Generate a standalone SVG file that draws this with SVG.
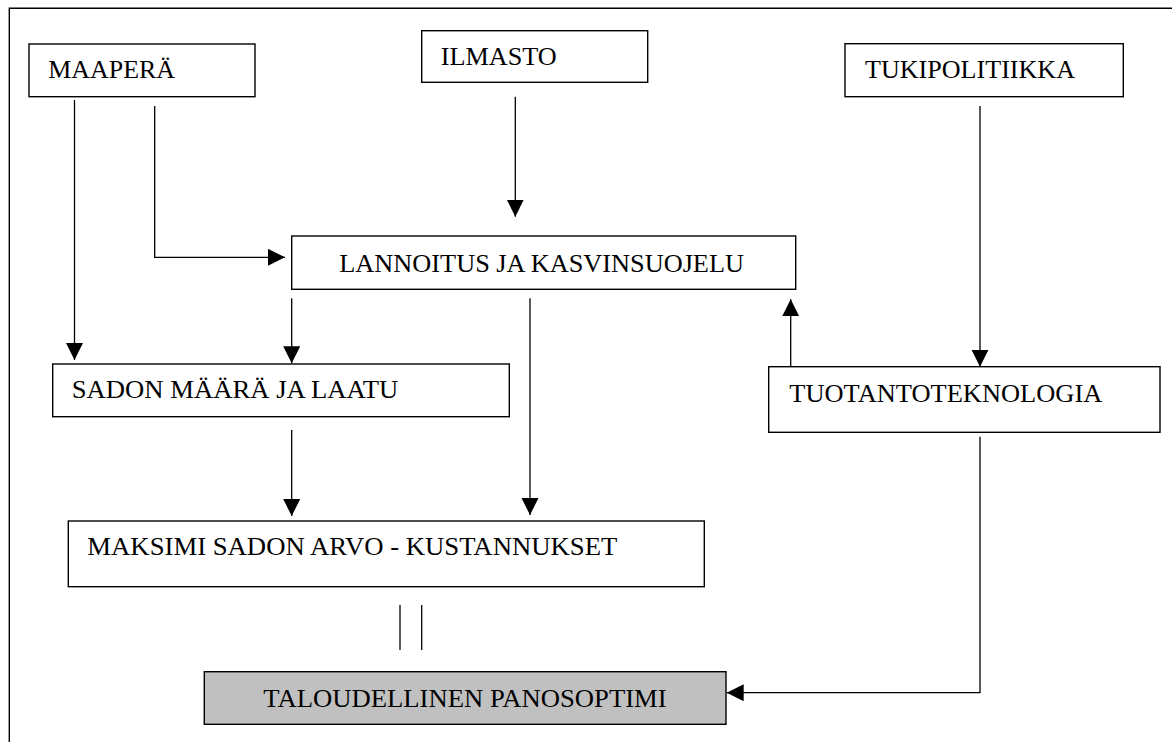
<svg xmlns="http://www.w3.org/2000/svg" width="1172" height="742" viewBox="0 0 1172 742">
<style>
.box{fill:#fff;stroke:#000;stroke-width:1.4}
.grey{fill:#c0c0c0}
.lbl{font-family:"Liberation Serif","Times New Roman",serif;font-size:26px;fill:#000}
.ln{fill:none;stroke:#000;stroke-width:1.3}
.frame{fill:none;stroke:#000;stroke-width:1.4}
</style>
<defs>
<marker id="ah" markerUnits="userSpaceOnUse" markerWidth="18" markerHeight="18" refX="17" refY="8.5" orient="auto">
<path d="M0,0 L17,8.5 L0,17 Z" fill="#000"/>
</marker>
</defs>
<rect width="1172" height="742" fill="#fff"/>
<path class="frame" d="M9.3,742 V8.3 H1172"/>
<g id="maapera"><rect class="box" x="29" y="44" width="226" height="52.7"/><text class="lbl" x="48.3" y="78.3" textLength="126.7" lengthAdjust="spacingAndGlyphs">MAAPERÄ</text></g>
<g id="ilmasto"><rect class="box" x="421.7" y="30.7" width="226" height="51.6"/><text class="lbl" x="440.7" y="65" textLength="116" lengthAdjust="spacingAndGlyphs">ILMASTO</text></g>
<g id="tukipolitiikka"><rect class="box" x="845" y="43.7" width="278.3" height="53"/><text class="lbl" x="865" y="77.7" textLength="210" lengthAdjust="spacingAndGlyphs">TUKIPOLITIIKKA</text></g>
<g id="lannoitus"><rect class="box" x="291.7" y="236" width="504" height="53.3"/><text class="lbl" x="339.3" y="271.7" textLength="404.7" lengthAdjust="spacingAndGlyphs">LANNOITUS JA KASVINSUOJELU</text></g>
<g id="sadon"><rect class="box" x="52.7" y="364" width="456.6" height="52.7"/><text class="lbl" x="71.7" y="398.3" textLength="326.7" lengthAdjust="spacingAndGlyphs">SADON MÄÄRÄ JA LAATU</text></g>
<g id="tuotanto"><rect class="box" x="768.7" y="366.7" width="391.3" height="65.6"/><text class="lbl" x="789.3" y="402.3" textLength="313" lengthAdjust="spacingAndGlyphs">TUOTANTOTEKNOLOGIA</text></g>
<g id="maksimi"><rect class="box" x="68.3" y="521" width="636" height="65.7"/><text class="lbl" x="87.3" y="555" textLength="530" lengthAdjust="spacingAndGlyphs">MAKSIMI SADON ARVO - KUSTANNUKSET</text></g>
<g id="taloudellinen"><rect class="box grey" x="204.3" y="671.7" width="521.7" height="52.6"/><text class="lbl" x="263.3" y="706.7" textLength="403.4" lengthAdjust="spacingAndGlyphs">TALOUDELLINEN PANOSOPTIMI</text></g>
<g id="connectors">
<path class="ln" d="M74.5,100 V360" marker-end="url(#ah)"/>
<path class="ln" d="M154.7,106 V257.3 H285" marker-end="url(#ah)"/>
<path class="ln" d="M515.3,96.7 V216.7" marker-end="url(#ah)"/>
<path class="ln" d="M291.7,298.3 V363.3" marker-end="url(#ah)"/>
<path class="ln" d="M530,298.3 V515" marker-end="url(#ah)"/>
<path class="ln" d="M291.7,430 V516" marker-end="url(#ah)"/>
<path class="ln" d="M980,106 V366.7" marker-end="url(#ah)"/>
<path class="ln" d="M790.7,366.7 V299.3" marker-end="url(#ah)"/>
<path class="ln" d="M980,436.7 V692.7 H726.7" marker-end="url(#ah)"/>
<path class="ln" d="M400,605 V650 M421.7,605 V650"/>
</g>
</svg>
